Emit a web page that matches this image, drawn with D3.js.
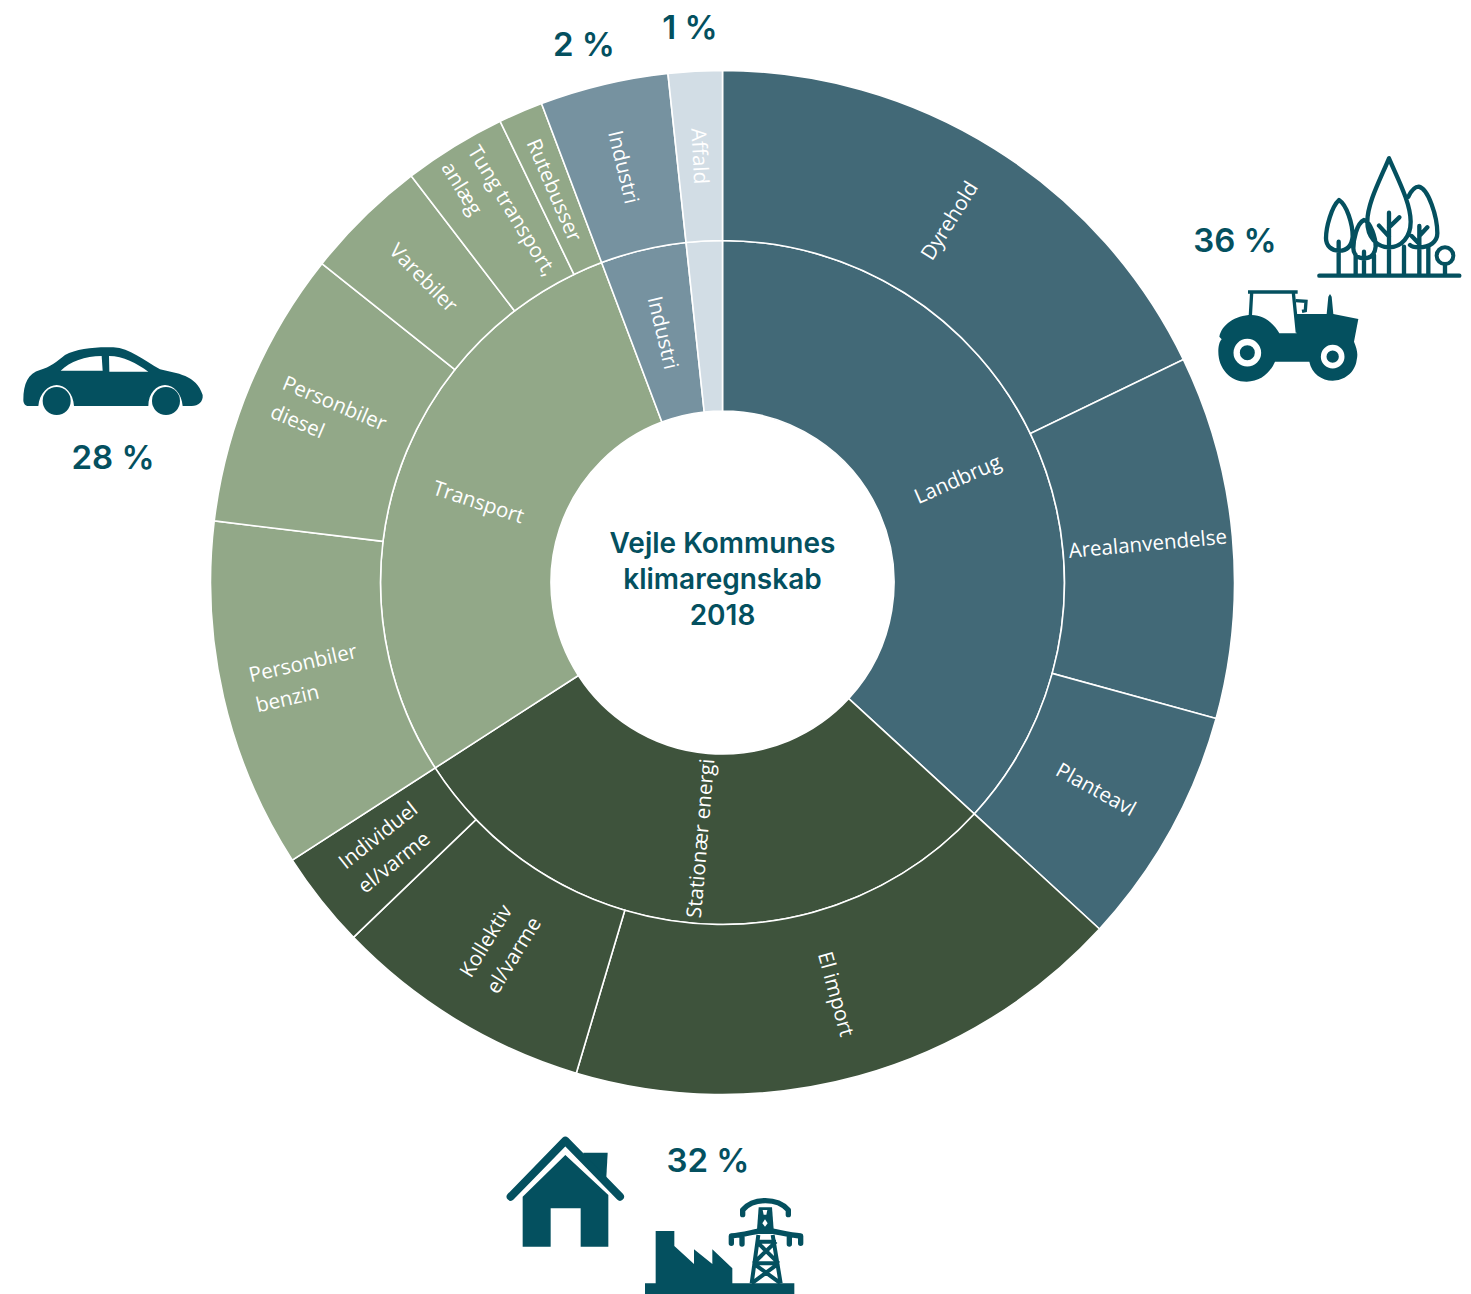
<!DOCTYPE html>
<html>
<head>
<meta charset="utf-8">
<script src="https://cdn.jsdelivr.net/npm/d3@7"></script>
<style>
  html, body { margin: 0; background: #fff; }
  svg { display: block; }
</style>
</head>
<body>
<svg id="chart" width="1471" height="1294"></svg>
<script>
// sector groups, inner ring
const groupNames = ["Landbrug", "Stationær energi", "Transport", "Industri", "Affald"];
const groupColors = ["#426977", "#3e533c", "#92a888", "#7692a0", "#d2dde5"];
const hiddenGroupLabels = ["Affald"];

// outer ring, share of emissions in percent
const subNames = ["Dyrehold", "Arealanvendelse", "Planteavl", "El import", "Kollektiv\nel/varme",
    "Individuel\nel/varme", "Personbiler\nbenzin", "Personbiler\ndiesel", "Varebiler",
    "Tung transport,\nanlæg", "Rutebusser", "Industri", "Affald"];
const subGroups = ["Landbrug", "Landbrug", "Landbrug", "Stationær energi", "Stationær energi",
    "Stationær energi", "Transport", "Transport", "Transport", "Transport", "Transport",
    "Industri", "Affald"];
const subValues = [17.83, 11.45, 7.55, 17.78, 8.2, 3.07, 11.04, 8.78, 3.9, 3.25, 1.4, 4.05, 1.7];

const titleLines = ["Vejle Kommunes", "klimaregnskab", "2018"];
const shareLabels = ["36 %", "32 %", "28 %", "2 %", "1 %"];
const shareSpots = [[1235, 240], [708, 1160], [113, 457], [584, 44], [690, 27]];

const ink = "#04505f";
const cx = 722.5, cy = 582.5;
const radii = [0, 171.5, 342, 512];

const svg = d3.select("#chart");
const plot = svg.append("g").attr("transform", "translate(" + cx + "," + cy + ")");

let tree = {name: "root", children: groupNames.map(function(g) {
    return {
        name: g,
        children: subNames.map(function(n, i) { return {name: n, group: subGroups[i], value: subValues[i]}; })
            .filter(function(d) { return d.group === g; })
    };
})};

let root = d3.hierarchy(tree).sum(function(d) { return d.value; });
d3.partition().size([2 * Math.PI, 3])(root);

let color = d3.scaleOrdinal().domain(groupNames).range(groupColors);
let arc = d3.arc()
    .startAngle(function(d) { return d.x0; })
    .endAngle(function(d) { return d.x1; })
    .innerRadius(function(d) { return radii[d.depth]; })
    .outerRadius(function(d) { return radii[d.depth + 1]; });

let nodes = root.descendants().filter(function(d) { return d.depth > 0; });

plot.selectAll("path.seg").data(nodes).enter().append("path")
    .attr("class", "seg")
    .attr("d", arc)
    .attr("fill", function(d) { return color(d.depth === 1 ? d.data.name : d.data.group); })
    .attr("stroke", "#fff")
    .attr("stroke-width", 1.6);

// radial labels, centred in their ring, flipped on the left half
let labelNodes = nodes.filter(function(d) {
    return !(d.depth === 1 && hiddenGroupLabels.indexOf(d.data.name) >= 0);
});
let labels = plot.selectAll("g.lab").data(labelNodes).enter().append("g")
    .attr("class", "lab")
    .attr("transform", function(d) {
        let a = (d.x0 + d.x1) / 2 * 180 / Math.PI;
        let r = (radii[d.depth] + radii[d.depth + 1]) / 2;
        let rad = a * Math.PI / 180;
        let rot = a < 180 ? a - 90 : a - 270;
        return "translate(" + (r * Math.sin(rad)) + "," + (-r * Math.cos(rad)) + ") rotate(" + rot + ")";
    });

labels.each(function(d) {
    let g = d3.select(this);
    let lines = d.data.name.split("\n");
    let lh = 31;
    let texts = g.selectAll("text").data(lines).enter().append("text")
        .attr("font-family", "'Open Sans', sans-serif")
        .attr("font-size", 20.6)
        .attr("fill", "#fff")
        .attr("dy", function(l, i) { return (i - (lines.length - 1) / 2) * lh + 7; })
        .text(function(l) { return l; });
    let w = d3.max(texts.nodes(), function(n) { return n.getComputedTextLength(); });
    texts.attr("x", -w / 2);
});

// centre title
svg.append("g").selectAll("text").data(titleLines).enter().append("text")
    .attr("x", cx)
    .attr("y", function(d, i) { return 553 + i * 36; })
    .attr("text-anchor", "middle")
    .attr("font-family", "Inter, sans-serif")
    .attr("font-weight", 600)
    .attr("font-size", 28)
    .attr("fill", ink)
    .text(function(d) { return d; });

// share labels
svg.append("g").selectAll("text").data(shareLabels).enter().append("text")
    .attr("x", function(d, i) { return shareSpots[i][0]; })
    .attr("y", function(d, i) { return shareSpots[i][1] + 12; })
    .attr("text-anchor", "middle")
    .attr("font-family", "Inter, sans-serif")
    .attr("font-weight", 600)
    .attr("font-size", 33)
    .attr("fill", ink)
    .text(function(d) { return d; });

// icons are traced in crop coordinates, 3x the page
function icon(x, y) {
    return svg.append("g").attr("transform", "translate(" + x + "," + y + ") scale(" + (1 / 3) + ")");
}

// tractor
let tractor = icon(1180, 140);
tractor.append("path").attr("fill", ink).attr("d",
    "M118,590 C125,555 165,525 215,525 C255,525 285,555 298,580 L350,580 L345,522 L440,522 L445,470 L450,462 L455,470 L460,522 " +
    "L535,537 L522,605 C530,625 535,640 530,660 C525,700 490,722 458,722 C425,722 395,700 388,665 L285,665 " +
    "C270,700 240,725 200,725 C150,725 115,685 115,635 C115,620 118,605 125,598 Z");
tractor.append("path").attr("fill", "none").attr("stroke", ink).attr("stroke-width", 10)
    .attr("d", "M204,456 L353,456 M340,458 L352,578 M215,458 L211,528");
tractor.append("path").attr("fill", "none").attr("stroke", ink).attr("stroke-width", 10)
    .attr("d", "M347,482 L378,484 L376,512 L366,514");
tractor.append("circle").attr("cx", 202).attr("cy", 638).attr("r", 32).attr("fill", "none").attr("stroke", "#fff").attr("stroke-width", 19);
tractor.append("circle").attr("cx", 458).attr("cy", 650).attr("r", 27).attr("fill", "none").attr("stroke", "#fff").attr("stroke-width", 17);

// trees
let trees = icon(1180, 140);
trees.append("path").attr("fill", "none").attr("stroke", ink).attr("stroke-width", 13)
    .attr("stroke-linecap", "round").attr("stroke-linejoin", "round")
    .attr("d",
        "M418,407 L838,407 " +
        "M627,55 C600,120 562,190 562,245 C562,290 590,322 627,322 C665,322 692,290 692,245 C692,190 655,120 627,55 Z " +
        "M477,180 C455,200 438,260 438,295 C438,318 455,332 477,332 C500,332 515,318 518,290 C518,250 500,195 477,180 Z " +
        "M552,240 C530,250 520,300 520,325 C520,345 535,355 552,355 C570,355 585,345 587,320 C587,295 572,245 552,240 Z " +
        "M685,170 C695,150 705,140 716,140 C745,145 772,230 772,280 C772,305 750,322 716,322 C705,322 695,320 690,315 " +
        "M476,305 L476,402 M527,345 L527,402 M552,335 L552,402 M582,345 L582,402 M627,218 L627,402 M597,257 L627,290 M658,232 L627,262 " +
        "M672,320 L672,402 M718,258 L718,402 M695,288 L718,312 M742,262 L718,288 M745,320 L745,402 M795,375 L795,402");
trees.append("circle").attr("cx", 795).attr("cy", 347).attr("r", 25).attr("fill", "#fff").attr("stroke", ink).attr("stroke-width", 12);

// house
let house = icon(490, 1120);
house.append("path").attr("fill", ink)
    .attr("d", "M280,98 L353,98 L348,190 L280,120 Z");
house.append("path").attr("fill", "none").attr("stroke", ink).attr("stroke-width", 24)
    .attr("stroke-linecap", "round").attr("stroke-linejoin", "round")
    .attr("d", "M62,230 L226,62 L390,230");
house.append("path").attr("fill", ink)
    .attr("d", "M226,105 L355,225 L355,380 L272,380 L272,265 L182,265 L182,380 L98,380 L98,230 Z");

// factory and pylon
let plant = icon(490, 1120);
plant.append("path").attr("fill", ink)
    .attr("d", "M497,333 L553,333 L553,378 L612,432 L612,388 L667,432 L667,388 L727,445 L727,490 L913,490 L913,522 L465,522 L465,490 L497,490 Z");
plant.append("path").attr("fill", ink)
    .attr("d", "M806,262 L846,262 L852,342 L800,342 Z");
plant.append("path").attr("fill", "none").attr("stroke", ink).attr("stroke-width", 16)
    .attr("stroke-linecap", "round").attr("stroke-linejoin", "round")
    .attr("d",
        "M758,284 L758,270 C775,250 800,242 826,242 C852,242 877,250 895,270 L895,284 " +
        "M724,370 L724,348 C760,345 790,335 826,330 C862,335 895,345 932,348 L932,370 " +
        "M756,372 L756,352 M898,372 L898,352");
plant.append("path").attr("fill", "#fff").attr("d", "M825,298 L833,310 L825,320 L817,310 Z M818,270 L832,270 L829,284 L821,284 Z");
plant.append("path").attr("fill", "none").attr("stroke", ink).attr("stroke-width", 12)
    .attr("d",
        "M805,345 L785,490 M848,345 L872,490 M800,365 L858,365 M790,430 L866,430 M800,365 L866,430 M858,365 L790,430 " +
        "M790,430 L872,490 M866,430 L785,490");

// car
let car = icon(10, 330);
car.append("path").attr("fill", ink)
    .attr("d", "M40,210 C40,160 55,130 90,120 C120,112 140,95 165,75 C200,55 260,50 310,52 C360,55 400,90 450,118 " +
        "C500,130 560,135 578,195 C580,215 565,228 545,228 L518,228 C515,190 490,165 465,165 C440,165 415,190 415,228 " +
        "L192,228 C190,190 165,165 140,165 C115,165 88,190 85,228 L55,228 C45,228 40,220 40,210 Z");
car.append("path").attr("fill", "#fff")
    .attr("d", "M152,122 C180,95 225,78 275,78 L278,122 Z M297,78 C340,78 380,100 415,125 L298,125 Z");
car.append("circle").attr("cx", 140).attr("cy", 213).attr("r", 42).attr("fill", ink);
car.append("circle").attr("cx", 468).attr("cy", 213).attr("r", 42).attr("fill", ink);
</script>
</body>
</html>
